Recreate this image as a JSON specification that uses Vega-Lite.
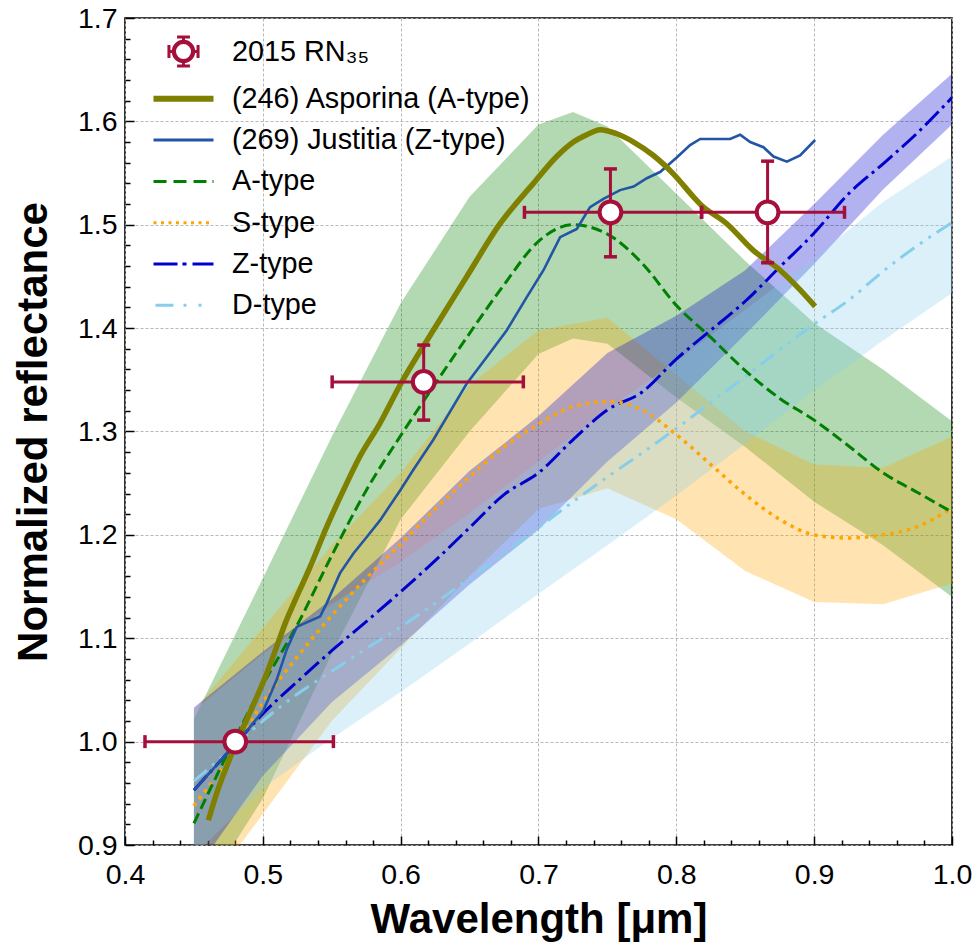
{
  "$schema": "https://vega.github.io/schema/vega-lite/v6.json",
  "width": 827,
  "height": 827,
  "autosize": "none",
  "padding": {"left": 125, "top": 18, "right": 25, "bottom": 101},
  "config": {
    "font": "Liberation Sans",
    "view": {"stroke": "black", "strokeWidth": 1.6},
    "axis": {"labelFont": "Liberation Sans", "titleFont": "Liberation Sans"}
  },
  "datasets": {
    "bands": [
      {"b":"A","x":0.45,"lo":0.84,"hi":1.022},{"b":"A","x":0.5,"lo":0.945,"hi":1.158},{"b":"A","x":0.55,"lo":1.085,"hi":1.295},{"b":"A","x":0.6,"lo":1.215,"hi":1.424},{"b":"A","x":0.65,"lo":1.3,"hi":1.527},{"b":"A","x":0.7,"lo":1.375,"hi":1.597},{"b":"A","x":0.725,"lo":1.39,"hi":1.609},{"b":"A","x":0.75,"lo":1.385,"hi":1.595},{"b":"A","x":0.8,"lo":1.333,"hi":1.53},{"b":"A","x":0.85,"lo":1.285,"hi":1.465},{"b":"A","x":0.9,"lo":1.232,"hi":1.405},{"b":"A","x":0.95,"lo":1.19,"hi":1.36},{"b":"A","x":1.0,"lo":1.14,"hi":1.31},
      {"b":"S","x":0.45,"lo":0.84,"hi":1.03},{"b":"S","x":0.5,"lo":0.93,"hi":1.11},{"b":"S","x":0.55,"lo":1.02,"hi":1.19},{"b":"S","x":0.6,"lo":1.09,"hi":1.26},{"b":"S","x":0.65,"lo":1.16,"hi":1.345},{"b":"S","x":0.7,"lo":1.225,"hi":1.398},{"b":"S","x":0.75,"lo":1.245,"hi":1.41},{"b":"S","x":0.8,"lo":1.215,"hi":1.355},{"b":"S","x":0.85,"lo":1.165,"hi":1.3},{"b":"S","x":0.9,"lo":1.135,"hi":1.268},{"b":"S","x":0.95,"lo":1.133,"hi":1.265},{"b":"S","x":1.0,"lo":1.153,"hi":1.295},
      {"b":"Z","x":0.45,"lo":0.873,"hi":1.033},{"b":"Z","x":0.5,"lo":0.967,"hi":1.087},{"b":"Z","x":0.55,"lo":1.038,"hi":1.138},{"b":"Z","x":0.6,"lo":1.093,"hi":1.197},{"b":"Z","x":0.65,"lo":1.152,"hi":1.262},{"b":"Z","x":0.7,"lo":1.205,"hi":1.315},{"b":"Z","x":0.75,"lo":1.271,"hi":1.376},{"b":"Z","x":0.8,"lo":1.328,"hi":1.412},{"b":"Z","x":0.85,"lo":1.394,"hi":1.456},{"b":"Z","x":0.9,"lo":1.462,"hi":1.52},{"b":"Z","x":0.95,"lo":1.534,"hi":1.587},{"b":"Z","x":1.0,"lo":1.597,"hi":1.646},
      {"b":"D","x":0.45,"lo":0.89,"hi":1.03},{"b":"D","x":0.5,"lo":0.955,"hi":1.085},{"b":"D","x":0.55,"lo":1.003,"hi":1.133},{"b":"D","x":0.6,"lo":1.048,"hi":1.174},{"b":"D","x":0.65,"lo":1.095,"hi":1.221},{"b":"D","x":0.7,"lo":1.143,"hi":1.271},{"b":"D","x":0.75,"lo":1.19,"hi":1.322},{"b":"D","x":0.8,"lo":1.238,"hi":1.368},{"b":"D","x":0.85,"lo":1.288,"hi":1.418},{"b":"D","x":0.9,"lo":1.34,"hi":1.468},{"b":"D","x":0.95,"lo":1.388,"hi":1.522},{"b":"D","x":1.0,"lo":1.434,"hi":1.566}
    ],
    "means": [
      {"s":"A","x":0.45,"y":0.921},{"s":"A","x":0.475,"y":0.99},{"s":"A","x":0.5,"y":1.055},{"s":"A","x":0.525,"y":1.113},{"s":"A","x":0.55,"y":1.18},{"s":"A","x":0.575,"y":1.243},{"s":"A","x":0.6,"y":1.296},{"s":"A","x":0.625,"y":1.346},{"s":"A","x":0.65,"y":1.395},{"s":"A","x":0.675,"y":1.442},{"s":"A","x":0.7,"y":1.484},{"s":"A","x":0.725,"y":1.5},{"s":"A","x":0.75,"y":1.491},{"s":"A","x":0.775,"y":1.463},{"s":"A","x":0.8,"y":1.422},{"s":"A","x":0.825,"y":1.391},{"s":"A","x":0.85,"y":1.359},{"s":"A","x":0.875,"y":1.332},{"s":"A","x":0.9,"y":1.311},{"s":"A","x":0.925,"y":1.286},{"s":"A","x":0.95,"y":1.26},{"s":"A","x":0.975,"y":1.241},{"s":"A","x":1.0,"y":1.222},
      {"s":"S","x":0.45,"y":0.938},{"s":"S","x":0.475,"y":0.983},{"s":"S","x":0.5,"y":1.038},{"s":"S","x":0.525,"y":1.082},{"s":"S","x":0.55,"y":1.122},{"s":"S","x":0.575,"y":1.158},{"s":"S","x":0.6,"y":1.191},{"s":"S","x":0.625,"y":1.225},{"s":"S","x":0.65,"y":1.256},{"s":"S","x":0.675,"y":1.285},{"s":"S","x":0.7,"y":1.307},{"s":"S","x":0.725,"y":1.324},{"s":"S","x":0.75,"y":1.329},{"s":"S","x":0.775,"y":1.321},{"s":"S","x":0.8,"y":1.297},{"s":"S","x":0.825,"y":1.268},{"s":"S","x":0.85,"y":1.239},{"s":"S","x":0.875,"y":1.215},{"s":"S","x":0.9,"y":1.2},{"s":"S","x":0.925,"y":1.197},{"s":"S","x":0.95,"y":1.2},{"s":"S","x":0.975,"y":1.208},{"s":"S","x":1.0,"y":1.226},
      {"s":"Z","x":0.45,"y":0.953},{"s":"Z","x":0.475,"y":0.99},{"s":"Z","x":0.5,"y":1.027},{"s":"Z","x":0.525,"y":1.058},{"s":"Z","x":0.55,"y":1.088},{"s":"Z","x":0.575,"y":1.116},{"s":"Z","x":0.6,"y":1.145},{"s":"Z","x":0.625,"y":1.175},{"s":"Z","x":0.65,"y":1.207},{"s":"Z","x":0.675,"y":1.239},{"s":"Z","x":0.7,"y":1.26},{"s":"Z","x":0.725,"y":1.292},{"s":"Z","x":0.75,"y":1.321},{"s":"Z","x":0.775,"y":1.338},{"s":"Z","x":0.8,"y":1.37},{"s":"Z","x":0.825,"y":1.398},{"s":"Z","x":0.85,"y":1.426},{"s":"Z","x":0.875,"y":1.459},{"s":"Z","x":0.9,"y":1.492},{"s":"Z","x":0.925,"y":1.53},{"s":"Z","x":0.95,"y":1.559},{"s":"Z","x":0.975,"y":1.589},{"s":"Z","x":1.0,"y":1.623},
      {"s":"D","x":0.45,"y":0.962},{"s":"D","x":0.475,"y":0.99},{"s":"D","x":0.5,"y":1.02},{"s":"D","x":0.525,"y":1.046},{"s":"D","x":0.55,"y":1.068},{"s":"D","x":0.575,"y":1.09},{"s":"D","x":0.6,"y":1.111},{"s":"D","x":0.625,"y":1.134},{"s":"D","x":0.65,"y":1.158},{"s":"D","x":0.675,"y":1.182},{"s":"D","x":0.7,"y":1.207},{"s":"D","x":0.725,"y":1.232},{"s":"D","x":0.75,"y":1.256},{"s":"D","x":0.775,"y":1.279},{"s":"D","x":0.8,"y":1.303},{"s":"D","x":0.825,"y":1.328},{"s":"D","x":0.85,"y":1.353},{"s":"D","x":0.875,"y":1.379},{"s":"D","x":0.9,"y":1.404},{"s":"D","x":0.925,"y":1.427},{"s":"D","x":0.95,"y":1.455},{"s":"D","x":0.975,"y":1.48},{"s":"D","x":1.0,"y":1.502}
    ],
    "spec": [
      {"s":"Asp","x":0.4605,"y":0.924},{"s":"Asp","x":0.4665,"y":0.95},{"s":"Asp","x":0.4738,"y":0.976},{"s":"Asp","x":0.481,"y":1.0},{"s":"Asp","x":0.4883,"y":1.021},{"s":"Asp","x":0.4956,"y":1.043},{"s":"Asp","x":0.5028,"y":1.066},{"s":"Asp","x":0.5101,"y":1.092},{"s":"Asp","x":0.5173,"y":1.118},{"s":"Asp","x":0.5222,"y":1.133},{"s":"Asp","x":0.5343,"y":1.169},{"s":"Asp","x":0.5464,"y":1.208},{"s":"Asp","x":0.5584,"y":1.243},{"s":"Asp","x":0.5705,"y":1.276},{"s":"Asp","x":0.585,"y":1.308},{"s":"Asp","x":0.5996,"y":1.345},{"s":"Asp","x":0.6237,"y":1.398},{"s":"Asp","x":0.648,"y":1.45},{"s":"Asp","x":0.6721,"y":1.501},{"s":"Asp","x":0.6963,"y":1.54},{"s":"Asp","x":0.7132,"y":1.566},{"s":"Asp","x":0.7253,"y":1.58},{"s":"Asp","x":0.735,"y":1.587},{"s":"Asp","x":0.7447,"y":1.592},{"s":"Asp","x":0.7568,"y":1.588},{"s":"Asp","x":0.769,"y":1.58},{"s":"Asp","x":0.7834,"y":1.567},{"s":"Asp","x":0.798,"y":1.549},{"s":"Asp","x":0.8124,"y":1.527},{"s":"Asp","x":0.8173,"y":1.52},{"s":"Asp","x":0.8366,"y":1.501},{"s":"Asp","x":0.856,"y":1.475},{"s":"Asp","x":0.8753,"y":1.456},{"s":"Asp","x":0.8898,"y":1.437},{"s":"Asp","x":0.9007,"y":1.421},
      {"s":"Jus","x":0.45,"y":0.953},{"s":"Jus","x":0.465,"y":0.975},{"s":"Jus","x":0.48,"y":0.998},{"s":"Jus","x":0.49,"y":1.013},{"s":"Jus","x":0.5004,"y":1.03},{"s":"Jus","x":0.5101,"y":1.06},{"s":"Jus","x":0.5173,"y":1.089},{"s":"Jus","x":0.5246,"y":1.111},{"s":"Jus","x":0.5415,"y":1.121},{"s":"Jus","x":0.5464,"y":1.134},{"s":"Jus","x":0.556,"y":1.163},{"s":"Jus","x":0.5657,"y":1.182},{"s":"Jus","x":0.5754,"y":1.198},{"s":"Jus","x":0.585,"y":1.214},{"s":"Jus","x":0.5996,"y":1.243},{"s":"Jus","x":0.6092,"y":1.263},{"s":"Jus","x":0.6237,"y":1.292},{"s":"Jus","x":0.648,"y":1.3465},{"s":"Jus","x":0.6625,"y":1.372},{"s":"Jus","x":0.677,"y":1.398},{"s":"Jus","x":0.6915,"y":1.43},{"s":"Jus","x":0.7036,"y":1.456},{"s":"Jus","x":0.7157,"y":1.488},{"s":"Jus","x":0.7278,"y":1.496},{"s":"Jus","x":0.7374,"y":1.517},{"s":"Jus","x":0.7471,"y":1.525},{"s":"Jus","x":0.7592,"y":1.5335},{"s":"Jus","x":0.769,"y":1.537},{"s":"Jus","x":0.7786,"y":1.545},{"s":"Jus","x":0.7882,"y":1.551},{"s":"Jus","x":0.8003,"y":1.565},{"s":"Jus","x":0.81,"y":1.577},{"s":"Jus","x":0.8173,"y":1.583},{"s":"Jus","x":0.839,"y":1.583},{"s":"Jus","x":0.8463,"y":1.587},{"s":"Jus","x":0.8536,"y":1.58},{"s":"Jus","x":0.8632,"y":1.575},{"s":"Jus","x":0.8705,"y":1.566},{"s":"Jus","x":0.8802,"y":1.561},{"s":"Jus","x":0.8898,"y":1.567},{"s":"Jus","x":0.9007,"y":1.582}
    ],
    "obs": [
      {"x":0.48,"y":1.0,"xlo":0.4145,"xhi":0.5512,"ylo":1.0,"yhi":1.0},
      {"x":0.6167,"y":1.348,"xlo":0.5503,"xhi":0.689,"ylo":1.311,"yhi":1.3836},
      {"x":0.7522,"y":1.512,"xlo":0.6898,"xhi":0.8183,"ylo":1.469,"yhi":1.554},
      {"x":0.8662,"y":1.512,"xlo":0.8183,"xhi":0.922,"ylo":1.4632,"yhi":1.5615}
    ],
    "legend": [
      {"series":"2015 RN₃₅"},{"series":"(246) Asporina (A-type)"},{"series":"(269) Justitia (Z-type)"},{"series":"A-type"},{"series":"S-type"},{"series":"Z-type"},{"series":"D-type"}
    ]
  },
  "layer": [
    {
      "data": {"name": "bands"},
      "transform": [{"filter": "datum.b == 'A'"}],
      "mark": {"type": "area", "color": "#008000", "opacity": 0.3, "clip": true},
      "encoding": {
        "x": {"field": "x", "type": "quantitative",
          "scale": {"domain": [0.4, 1.0], "nice": false, "zero": false},
          "axis": {
            "title": "Wavelength [μm]", "titleFontSize": 42, "titleFontWeight": "bold", "titleColor": "black", "titlePadding": 7,
            "values": [0.4,0.42,0.44,0.46,0.48,0.5,0.52,0.54,0.56,0.58,0.6,0.62,0.64,0.66,0.68,0.7,0.72,0.74,0.76,0.78,0.8,0.82,0.84,0.86,0.88,0.9,0.92,0.94,0.96,0.98,1.0],
            "tickCount": 500,
            "labelExpr": "abs(datum.value*10 - round(datum.value*10)) < 0.001 ? format(datum.value, '.1f') : ''",
            "labelFontSize": 28.5, "labelColor": "black", "labelPadding": 24, "labelFlush": false, "labelOverlap": false, "labelBound": false,
            "tickSize": {"condition": {"test": "abs(datum.value*10 - round(datum.value*10)) < 0.001", "value": -9}, "value": -5},
            "tickColor": "black", "tickWidth": 1.5,
            "grid": true, "gridColor": "#b0b0b0", "gridDash": [3, 2], "gridWidth": 0.9,
            "gridOpacity": {"condition": {"test": "abs(datum.value*10 - round(datum.value*10)) < 0.001", "value": 1}, "value": 0},
            "domain": false
          }
        },
        "y": {"field": "lo", "type": "quantitative",
          "scale": {"domain": [0.9, 1.7], "nice": false, "zero": false},
          "axis": {
            "title": "Normalized reflectance", "titleFontSize": 42, "titleFontWeight": "bold", "titleColor": "black", "titlePadding": 22,
            "values": [0.9,0.92,0.94,0.96,0.98,1.0,1.02,1.04,1.06,1.08,1.1,1.12,1.14,1.16,1.18,1.2,1.22,1.24,1.26,1.28,1.3,1.32,1.34,1.36,1.38,1.4,1.42,1.44,1.46,1.48,1.5,1.52,1.54,1.56,1.58,1.6,1.62,1.64,1.66,1.68,1.7],
            "tickCount": 500,
            "labelExpr": "abs(datum.value*10 - round(datum.value*10)) < 0.001 ? format(datum.value, '.1f') : ''",
            "labelFontSize": 28.5, "labelColor": "black", "labelPadding": 17, "labelFlush": false, "labelOverlap": false, "labelBound": false,
            "tickSize": {"condition": {"test": "abs(datum.value*10 - round(datum.value*10)) < 0.001", "value": -9}, "value": -5},
            "tickColor": "black", "tickWidth": 1.5,
            "grid": true, "gridColor": "#b0b0b0", "gridDash": [3, 2], "gridWidth": 0.9,
            "gridOpacity": {"condition": {"test": "abs(datum.value*10 - round(datum.value*10)) < 0.001", "value": 1}, "value": 0},
            "domain": false
          }
        },
        "y2": {"field": "hi"}
      }
    },
    {
      "data": {"name": "bands"},
      "transform": [{"filter": "datum.b == 'S'"}],
      "mark": {"type": "area", "color": "#FFA500", "opacity": 0.3, "clip": true},
      "encoding": {
        "x": {"field": "x", "type": "quantitative"},
        "y": {"field": "lo", "type": "quantitative"},
        "y2": {"field": "hi"}
      }
    },
    {
      "data": {"name": "bands"},
      "transform": [{"filter": "datum.b == 'Z'"}],
      "mark": {"type": "area", "color": "#0000CD", "opacity": 0.3, "clip": true},
      "encoding": {
        "x": {"field": "x", "type": "quantitative"},
        "y": {"field": "lo", "type": "quantitative"},
        "y2": {"field": "hi"}
      }
    },
    {
      "data": {"name": "bands"},
      "transform": [{"filter": "datum.b == 'D'"}],
      "mark": {"type": "area", "color": "#87CEEB", "opacity": 0.3, "clip": true},
      "encoding": {
        "x": {"field": "x", "type": "quantitative"},
        "y": {"field": "lo", "type": "quantitative"},
        "y2": {"field": "hi"}
      }
    },
    {
      "data": {"name": "means"},
      "transform": [{"filter": "datum.s == 'D'"}],
      "mark": {"type": "line", "color": "#87CEEB", "strokeWidth": 3, "strokeDash": [17, 7, 3, 7, 3, 7], "interpolate": "monotone", "clip": true},
      "encoding": {
        "x": {"field": "x", "type": "quantitative"},
        "y": {"field": "y", "type": "quantitative"}
      }
    },
    {
      "data": {"name": "means"},
      "transform": [{"filter": "datum.s == 'Z'"}],
      "mark": {"type": "line", "color": "#0000CD", "strokeWidth": 3, "strokeDash": [19, 5, 3, 5], "interpolate": "monotone", "clip": true},
      "encoding": {
        "x": {"field": "x", "type": "quantitative"},
        "y": {"field": "y", "type": "quantitative"}
      }
    },
    {
      "data": {"name": "means"},
      "transform": [{"filter": "datum.s == 'S'"}],
      "mark": {"type": "line", "color": "#FFA500", "strokeWidth": 3.5, "strokeDash": [3.5, 5], "interpolate": "monotone", "clip": true},
      "encoding": {
        "x": {"field": "x", "type": "quantitative"},
        "y": {"field": "y", "type": "quantitative"}
      }
    },
    {
      "data": {"name": "means"},
      "transform": [{"filter": "datum.s == 'A'"}],
      "mark": {"type": "line", "color": "#008000", "strokeWidth": 3, "strokeDash": [11, 5], "interpolate": "monotone", "clip": true},
      "encoding": {
        "x": {"field": "x", "type": "quantitative"},
        "y": {"field": "y", "type": "quantitative"}
      }
    },
    {
      "data": {"name": "spec"},
      "transform": [{"filter": "datum.s == 'Jus'"}],
      "mark": {"type": "line", "color": "#2255A4", "strokeWidth": 2.6, "interpolate": "linear", "clip": true},
      "encoding": {
        "x": {"field": "x", "type": "quantitative"},
        "y": {"field": "y", "type": "quantitative"}
      }
    },
    {
      "data": {"name": "spec"},
      "transform": [{"filter": "datum.s == 'Asp'"}],
      "mark": {"type": "line", "color": "#808000", "strokeWidth": 5.5, "interpolate": "monotone", "clip": true},
      "encoding": {
        "x": {"field": "x", "type": "quantitative"},
        "y": {"field": "y", "type": "quantitative"}
      }
    },
    {
      "data": {"name": "obs"},
      "mark": {"type": "rule", "color": "#A4103B", "strokeWidth": 3},
      "encoding": {
        "x": {"field": "xlo", "type": "quantitative"},
        "x2": {"field": "xhi"},
        "y": {"field": "y", "type": "quantitative"}
      }
    },
    {
      "data": {"name": "obs"},
      "transform": [{"filter": "datum.yhi > datum.ylo"}],
      "mark": {"type": "rule", "color": "#A4103B", "strokeWidth": 3},
      "encoding": {
        "x": {"field": "x", "type": "quantitative"},
        "y": {"field": "ylo", "type": "quantitative"},
        "y2": {"field": "yhi"}
      }
    },
    {
      "data": {"name": "obs"},
      "mark": {"type": "tick", "orient": "vertical", "color": "#A4103B", "size": 13, "thickness": 3.5, "opacity": 1},
      "encoding": {
        "x": {"field": "xlo", "type": "quantitative"},
        "y": {"field": "y", "type": "quantitative"}
      }
    },
    {
      "data": {"name": "obs"},
      "mark": {"type": "tick", "orient": "vertical", "color": "#A4103B", "size": 13, "thickness": 3.5, "opacity": 1},
      "encoding": {
        "x": {"field": "xhi", "type": "quantitative"},
        "y": {"field": "y", "type": "quantitative"}
      }
    },
    {
      "data": {"name": "obs"},
      "transform": [{"filter": "datum.yhi > datum.ylo"}],
      "mark": {"type": "tick", "orient": "horizontal", "color": "#A4103B", "size": 13, "thickness": 3.5, "opacity": 1},
      "encoding": {
        "x": {"field": "x", "type": "quantitative"},
        "y": {"field": "ylo", "type": "quantitative"}
      }
    },
    {
      "data": {"name": "obs"},
      "transform": [{"filter": "datum.yhi > datum.ylo"}],
      "mark": {"type": "tick", "orient": "horizontal", "color": "#A4103B", "size": 13, "thickness": 3.5, "opacity": 1},
      "encoding": {
        "x": {"field": "x", "type": "quantitative"},
        "y": {"field": "yhi", "type": "quantitative"}
      }
    },
    {
      "data": {"name": "obs"},
      "mark": {"type": "point", "shape": "circle", "filled": true, "fill": "white", "stroke": "#A4103B", "strokeWidth": 4, "size": 470, "opacity": 1},
      "encoding": {
        "x": {"field": "x", "type": "quantitative"},
        "y": {"field": "y", "type": "quantitative"}
      }
    },
    {
      "data": {"name": "legend"},
      "mark": {"type": "point", "filled": false, "opacity": 0},
      "encoding": {
        "x": {"datum": 0.7, "type": "quantitative"},
        "y": {"datum": 1.3, "type": "quantitative"},
        "color": {
          "field": "series", "type": "nominal",
          "scale": {
            "domain": ["2015 RN₃₅", "(246) Asporina (A-type)", "(269) Justitia (Z-type)", "A-type", "S-type", "Z-type", "D-type"],
            "range": ["#A4103B", "#808000", "#2255A4", "#008000", "#FFA500", "#0000CD", "#87CEEB"]
          },
          "legend": {
            "title": null, "orient": "none", "legendX": 42, "legendY": 17,
            "labelFontSize": 28.8, "labelFont": "Liberation Sans", "labelColor": "black", "labelLimit": 600,
            "symbolSize": 900, "symbolStrokeWidth": 3, "symbolOpacity": 1,
            "rowPadding": 9.3, "labelOffset": 32, "padding": 0
          }
        },
        "shape": {
          "field": "series", "type": "nominal",
          "scale": {
            "domain": ["2015 RN₃₅", "(246) Asporina (A-type)", "(269) Justitia (Z-type)", "A-type", "S-type", "Z-type", "D-type"],
            "range": [
              "M-0.6,0A0.6,0.6,0,1,1,0.6,0A0.6,0.6,0,1,1,-0.6,0M-0.68,0A0.68,0.68,0,1,1,0.68,0A0.68,0.68,0,1,1,-0.68,0M0.68,0H0.97M-0.68,0H-0.97M0,0.68V0.97M0,-0.68V-0.97M0.97,-0.43V0.43M-0.97,-0.43V0.43M-0.43,0.97H0.43M-0.43,-0.97H0.43",
              "M-2,-0.1H2M-2,0H2M-2,0.1H2",
              "M-2,0H2",
              "M-2,0H-1.13M-0.67,0H0.2M0.67,0H1.53M1.93,0H2",
              "M-2,0H-1.8M-1.5,0H-1.3M-1,0H-0.8M-0.5,0H-0.3M0,0H0.2M0.5,0H0.7M1,0H1.2M1.5,0H1.7",
              "M-2,0H-0.4M-0.07,0H0.2M0.6,0H2",
              "M-1.87,0H-0.67M0,0H0.2M1,0H1.2"
            ]
          }
        }
      }
    }
  ]
}
